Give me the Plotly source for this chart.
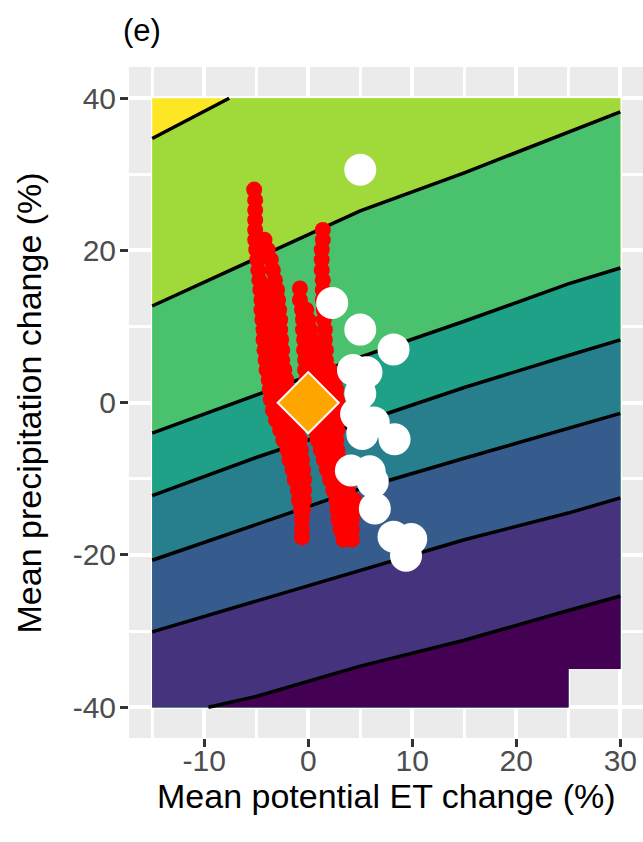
import plotly.graph_objects as go

# ---- response surface grid extent (%), one corner cell has no value ----
PET_MIN, PET_MAX = -15, 30
PR_MIN, PR_MAX = -40, 40
NA_PET = (25, 30)
NA_PR = (-40, -35)

# ---- contour lines, ordered from the highest level to the lowest ----
c1_pet = [-15, -7.6]
c1_pr = [34.7, 40]
c2_pet = [-15, -5, 5, 15, 25, 30]
c2_pr = [12.7, 19.0, 25.2, 30.2, 35.5, 38.2]
c3_pet = [-15, -5, 5, 15, 25, 30]
c3_pr = [-4.0, 1.0, 6.0, 10.7, 15.6, 17.7]
c4_pet = [-15, -5, 5, 15, 25, 30]
c4_pr = [-12.2, -7.2, -2.6, 2.0, 6.2, 8.25]
c5_pet = [-15, -5, 5, 15, 25, 30]
c5_pr = [-20.7, -16.0, -11.3, -7.3, -3.4, -1.4]
c6_pet = [-15, -5, 5, 15, 25, 30]
c6_pr = [-30.1, -26.1, -22.0, -18.0, -14.5, -12.5]
c7_pet = [-9.6, -5, 5, 15, 25, 30]
c7_pr = [-40, -38.6, -34.6, -31.2, -27.3, -25.4]

contour_pet = [c1_pet, c2_pet, c3_pet, c4_pet, c5_pet, c6_pet, c7_pet]
contour_pr = [c1_pr, c2_pr, c3_pr, c4_pr, c5_pr, c6_pr, c7_pr]

# viridis bands: top band first, then the band below each line
band_colors = ["#FDE725", "#9FDA3A", "#4AC16D", "#1FA187",
               "#277F8E", "#365C8D", "#46337E", "#440154"]

# ---- simulated changes (red): precipitation rows with their PET values ----
streak_a_pr = [28.0, 26.6, 25.3, 24.0, 22.7, 21.4, 20.1, 18.8, 17.4, 16.1,
               14.8, 13.5, 12.2, 10.9, 9.6, 8.3, 6.9, 5.6, 4.3, 3.0,
               1.7, 0.4, -1.0, -2.3, -3.6, -4.9, -6.2, -7.5, -8.8, -10.1,
               -11.5, -12.8, -14.1, -15.4, -16.7, -17.7]
streak_a_pet = [[-5.2], [-5.1], [-5.1], [-5.1], [-5.1], [-5.1, -4.2],
                [-5.0, -3.9], [-4.9, -3.6], [-4.8, -3.4], [-4.7, -3.2],
                [-4.6, -3.7, -3.0], [-4.5, -3.7, -2.9], [-4.5, -3.6, -2.8],
                [-4.4, -3.5, -2.7], [-4.3, -3.5, -2.7], [-4.3, -3.4, -2.6],
                [-4.2, -3.3, -2.5], [-4.1, -3.3, -2.5], [-4.0, -3.1, -2.3],
                [-3.8, -2.9, -2.1], [-3.7, -2.7, -1.9], [-3.6, -2.6, -1.8],
                [-3.4, -2.4, -1.6], [-3.1, -2.1, -1.3], [-2.7, -1.8, -1.0],
                [-2.4, -1.5, -0.8], [-2.0, -1.3, -0.7], [-1.8, -0.6],
                [-1.5, -0.5], [-1.3, -0.4], [-1.0, -0.4], [-0.9, -0.4],
                [-0.7, -0.5], [-0.6], [-0.6], [-0.6]]

streak_b_pr = [15.0, 13.5, 12.2, 10.9, 9.6, 8.3, 6.9, 5.6, 4.3, 3.0,
               1.7, 0.4, -1.0, -2.3, -3.6, -4.9, -6.2, -7.5, -8.8, -10.1,
               -11.5, -12.8, -14.1, -15.4, -16.7, -18.0]
streak_b_pet = [[-0.8], [-0.8], [-0.6, -0.2], [-0.5, 0.0], [-0.5, 0.2],
                [-0.4, 0.4], [-0.4, 0.5, 1.3], [-0.3, 0.6, 1.7],
                [-0.3, 0.6, 1.6, 2.1], [-0.2, 0.7, 1.7, 2.6],
                [-0.1, 0.8, 1.8, 2.7], [0.0, 0.9, 1.9, 2.8],
                [0.2, 1.1, 2.1, 3.0], [0.4, 1.4, 2.3, 3.0], [0.6, 1.6, 2.8],
                [0.9, 1.8, 2.7], [1.2, 2.1, 2.8], [1.5, 2.3, 3.0],
                [1.8, 2.6, 3.2], [2.1, 2.8, 3.4], [2.4, 3.1, 3.8],
                [2.7, 3.5, 4.4], [2.8, 3.6, 4.4], [2.9, 3.5, 4.2],
                [3.1, 4.2], [3.4, 4.2]]

streak_c_pr = [22.7, 21.4, 20.1, 18.8, 17.4, 16.1, 14.8, 13.5, 12.2, 10.9,
               9.6, 8.3, 6.9]
streak_c_pet = [[1.4], [1.4], [1.3], [1.3], [1.3], [1.4], [1.4], [1.4],
                [1.5], [1.5], [1.6], [1.6], [1.7]]

# ---- GCM changes (white) and the baseline (orange) ----
gcm_pet = [5.0, 2.3, 5.0, 8.2, 4.3, 5.6, 5.0, 4.6, 6.3, 5.2, 8.3, 4.1,
           5.9, 6.2, 6.4, 8.2, 9.9, 9.4]
gcm_pr = [30.6, 13.1, 9.6, 7.0, 4.3, 4.0, 1.2, -1.5, -2.6, -4.1, -4.8, -8.9,
          -9.0, -10.4, -13.9, -17.6, -17.9, -20.1]

base_pet = [0]
base_pr = [0]

x_ticks = [-10, 0, 10, 20, 30]
y_ticks = [-40, -20, 0, 20, 40]


def flatten_rows(rows_pr, rows_pet):
    xs, ys = [], []
    for pr, pets in zip(rows_pr, rows_pet):
        for pet in pets:
            xs.append(pet)
            ys.append(pr)
    return xs, ys


def region_below(pet, pr):
    """Closed outline of the part of the grid lying below one contour line."""
    xs, ys = list(pet), list(pr)
    if ys[-1] >= PR_MAX and xs[-1] < PET_MAX:
        xs.append(PET_MAX)
        ys.append(PR_MAX)
    xs += [PET_MAX, NA_PET[0], NA_PET[0]]
    ys += [NA_PR[1], NA_PR[1], NA_PR[0]]
    if xs[0] <= PET_MIN:
        xs.append(PET_MIN)
        ys.append(PR_MIN)
    xs.append(xs[0])
    ys.append(ys[0])
    return xs, ys


fig = go.Figure()

# whole grid in the top band colour
top_x = [PET_MIN, PET_MIN, PET_MAX, PET_MAX, NA_PET[0], NA_PET[0], PET_MIN]
top_y = [PR_MIN, PR_MAX, PR_MAX, NA_PR[1], NA_PR[1], PR_MIN, PR_MIN]
fig.add_trace(go.Scatter(x=top_x, y=top_y, mode="lines", fill="toself",
                         fillcolor=band_colors[0], line=dict(width=0),
                         hoverinfo="skip", showlegend=False))

for i, (pet, pr) in enumerate(zip(contour_pet, contour_pr)):
    bx, by = region_below(pet, pr)
    fig.add_trace(go.Scatter(x=bx, y=by, mode="lines", fill="toself",
                             fillcolor=band_colors[i + 1], line=dict(width=0),
                             hoverinfo="skip", showlegend=False))

for pet, pr in zip(contour_pet, contour_pr):
    fig.add_trace(go.Scatter(x=pet, y=pr, mode="lines",
                             line=dict(color="black", width=3.5),
                             hoverinfo="skip", showlegend=False))

red_pet, red_pr = [], []
for rows_pr, rows_pet in [(streak_a_pr, streak_a_pet),
                          (streak_b_pr, streak_b_pet),
                          (streak_c_pr, streak_c_pet)]:
    sx, sy = flatten_rows(rows_pr, rows_pet)
    red_pet += sx
    red_pr += sy

fig.add_trace(go.Scatter(x=red_pet, y=red_pr, mode="markers",
                         marker=dict(color="#FF0000", size=16, line=dict(width=0)),
                         showlegend=False))
fig.add_trace(go.Scatter(x=gcm_pet, y=gcm_pr, mode="markers",
                         marker=dict(color="white", size=32, line=dict(width=0)),
                         showlegend=False))
fig.add_trace(go.Scatter(x=base_pet, y=base_pr, mode="markers",
                         marker=dict(color="#FFA500", size=47, symbol="diamond",
                                     line=dict(color="white", width=2)),
                         showlegend=False))

axis_common = dict(
    showline=False, zeroline=False,
    showgrid=True, gridcolor="white", gridwidth=3.5,
    ticks="outside", ticklen=8, tickwidth=2.5, tickcolor="#333333",
    tickfont=dict(family="Liberation Sans, Arial", size=30, color="#4D4D4D"),
)

fig.update_layout(
    width=643, height=842,
    margin=dict(l=129, r=0, t=67, b=104),
    paper_bgcolor="white", plot_bgcolor="#EBEBEB",
    font=dict(family="Liberation Sans, Arial", color="black"),
    xaxis=dict(range=[-17.23, 32.18], tickvals=x_ticks,
               ticktext=[str(v) for v in x_ticks], ticklabelstandoff=-12,
               minor=dict(tickvals=[-15, -5, 5, 15, 25], showgrid=True,
                          gridcolor="white", gridwidth=2.5, ticks=""),
               **axis_common),
    yaxis=dict(range=[-44.05, 44.1], tickvals=y_ticks,
               ticktext=[str(v) for v in y_ticks], ticklabelstandoff=-2,
               minor=dict(tickvals=[-30, -10, 10, 30], showgrid=True,
                          gridcolor="white", gridwidth=2.5, ticks=""),
               **axis_common),
    annotations=[
        dict(text="Mean potential ET change (%)", xref="paper", yref="paper",
             x=0.501, y=-0.087, xanchor="center", yanchor="middle",
             showarrow=False, font=dict(size=34, color="black")),
        dict(text="Mean precipitation change (%)", xref="paper", yref="paper",
             x=-0.1946, y=0.5, xanchor="center", yanchor="middle", textangle=-90,
             showarrow=False, font=dict(size=34, color="black")),
        dict(text="(e)", xref="paper", yref="paper",
             x=-0.0156, y=1.055, xanchor="left", yanchor="middle",
             showarrow=False, font=dict(size=31, color="black")),
    ],
)

fig.write_html("out.html")
